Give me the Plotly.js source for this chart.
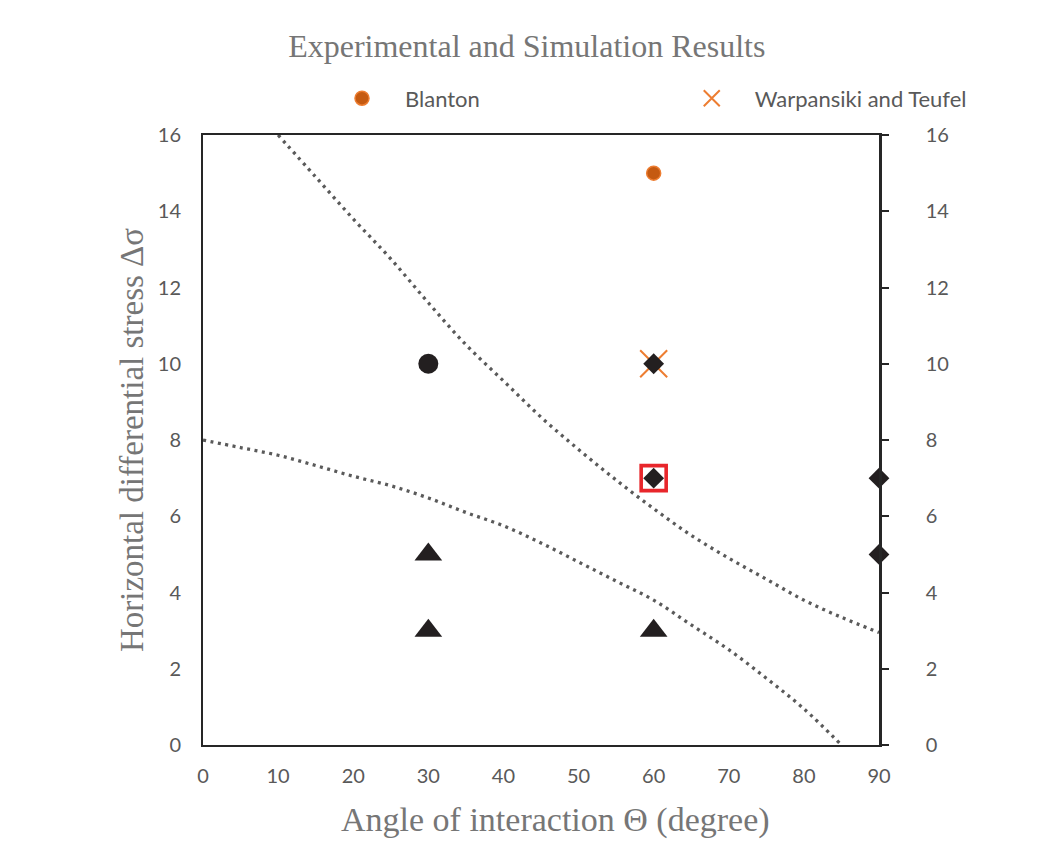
<!DOCTYPE html>
<html>
<head>
<meta charset="utf-8">
<script src="https://cdn.plot.ly/plotly-3.0.1.min.js"></script>
<style>html,body{margin:0;padding:0;background:#fff;}</style>
</head>
<body>
<div id="chart" style="width:1037px;height:848px;"></div>
<script>
// Boundary curves (dotted)
const upperCurveX = [10, 15, 20, 25, 30, 35, 40, 45, 50, 55, 60, 65, 70, 75, 80, 85, 90];
const upperCurveY = [16, 14.9, 13.8, 12.75, 11.6, 10.5, 9.55, 8.6, 7.75, 6.95, 6.2, 5.5, 4.9, 4.35, 3.8, 3.35, 2.95];
const lowerCurveX = [0, 5, 10, 15, 20, 25, 30, 35, 40, 45, 50, 55, 60, 65, 70, 75, 80, 85];
const lowerCurveY = [8, 7.8, 7.6, 7.33, 7.05, 6.8, 6.48, 6.1, 5.75, 5.3, 4.8, 4.3, 3.8, 3.15, 2.5, 1.75, 0.95, 0];

// Experimental results
const blantonX = [60];
const blantonY = [15];
const warpansikiX = [60];
const warpansikiY = [10];

// Simulation results
const circleX = [30];
const circleY = [10];
const triangleX = [30, 30, 60];
const triangleY = [5, 3, 3];
const diamondX = [60, 60, 90, 90];
const diamondY = [10, 7, 7, 5];
const highlightX = [60];
const highlightY = [7];

const yTicks = [0, 2, 4, 6, 8, 10, 12, 14, 16];
const xTicks = [0, 10, 20, 30, 40, 50, 60, 70, 80, 90];

const serif = '"Liberation Serif", "Times New Roman", serif';
const sans = 'Lato, "Open Sans", sans-serif';
const dotLine = {color: '#5a5a5a', width: 3.3, dash: '3px,4.5px', shape: 'spline', smoothing: 1};
const legendFont = {family: sans, size: 22, color: '#595959'};

const traces = [
  {x: upperCurveX, y: upperCurveY, mode: 'lines', line: dotLine, showlegend: false, hoverinfo: 'skip'},
  {x: lowerCurveX, y: lowerCurveY, mode: 'lines', line: dotLine, showlegend: false, hoverinfo: 'skip'},
  {x: blantonX, y: blantonY, name: 'Blanton', mode: 'markers', legend: 'legend',
   marker: {symbol: 'circle', size: 14, color: '#C55A11', line: {color: '#ED7D31', width: 1.5}}},
  {x: warpansikiX, y: warpansikiY, name: 'Warpansiki and Teufel', mode: 'markers', legend: 'legend2',
   marker: {symbol: 'x-thin-open', size: 27, color: '#ED7D31', line: {color: '#ED7D31', width: 2}}},
  {x: highlightX, y: highlightY, mode: 'markers', showlegend: false, cliponaxis: false,
   marker: {symbol: 'square-open', size: 25, color: '#E8262B', line: {color: '#E8262B', width: 3.6}}},
  {x: circleX, y: circleY, mode: 'markers', showlegend: false,
   marker: {symbol: 'circle', size: 20, color: '#231F20'}},
  {x: triangleX, y: triangleY, mode: 'markers', showlegend: false,
   marker: {symbol: 'triangle-up', size: 24, color: '#231F20'}},
  // diamonds share the right-hand axis (same 0-16 scale) so it is drawn
  {x: diamondX, y: diamondY, yaxis: 'y2', mode: 'markers', showlegend: false, cliponaxis: false,
   marker: {symbol: 'diamond', size: 16, color: '#231F20'}}
];

const legendBase = {orientation: 'h', xref: 'paper', xanchor: 'left', yref: 'paper', y: 1.06, yanchor: 'middle',
                    itemwidth: 76, font: legendFont, bgcolor: 'rgba(0,0,0,0)'};

const layout = {
  width: 1037, height: 848,
  margin: {l: 203, r: 158, t: 135, b: 103},
  paper_bgcolor: '#ffffff', plot_bgcolor: '#ffffff',
  title: {text: 'Experimental and Simulation Results', font: {family: serif, size: 32, color: '#767676'},
          xref: 'container', x: 0.508, xanchor: 'center', yref: 'container', y: 0.946, yanchor: 'middle'},
  showlegend: true,
  legend: Object.assign({}, legendBase, {x: 0.1716}),
  legend2: Object.assign({}, legendBase, {x: 0.689}),
  xaxis: {range: [0, 90], tickvals: xTicks, ticktext: xTicks.map(String), ticks: '',
          showline: true, linecolor: '#262626', linewidth: 2, mirror: true,
          showgrid: false, zeroline: false, ticklabelstandoff: 12,
          tickfont: {family: sans, size: 20, color: '#595959'}},
  yaxis: {range: [0, 16], tickvals: yTicks, ticktext: yTicks.map(String), ticks: '',
          showline: true, linecolor: '#262626', linewidth: 2,
          showgrid: false, zeroline: false, ticklabelstandoff: 16,
          tickfont: {family: sans, size: 20, color: '#595959'},
          title: {text: 'Horizontal differential stress \u0394\u03c3', font: {family: serif, size: 33, color: '#767676'}, standoff: 4}},
  yaxis2: {range: [0, 16], tickvals: yTicks, ticktext: yTicks.map(String), overlaying: 'y', side: 'right', anchor: 'x',
           ticks: 'outside', ticklen: 7, tickwidth: 2, tickcolor: '#262626',
           showline: true, linecolor: '#262626', linewidth: 2.5,
           showgrid: false, zeroline: false, ticklabelstandoff: 33,
           tickfont: {family: sans, size: 20, color: '#595959'}},
  annotations: [
    {text: 'Angle of interaction \u0398 (degree)', xref: 'paper', yref: 'paper', x: 0.522, y: -0.123,
     xanchor: 'center', yanchor: 'middle', showarrow: false, font: {family: serif, size: 34, color: '#767676'}}
  ]
};

Plotly.newPlot('chart', traces, layout, {displayModeBar: false, responsive: false});
</script>
</body>
</html>
